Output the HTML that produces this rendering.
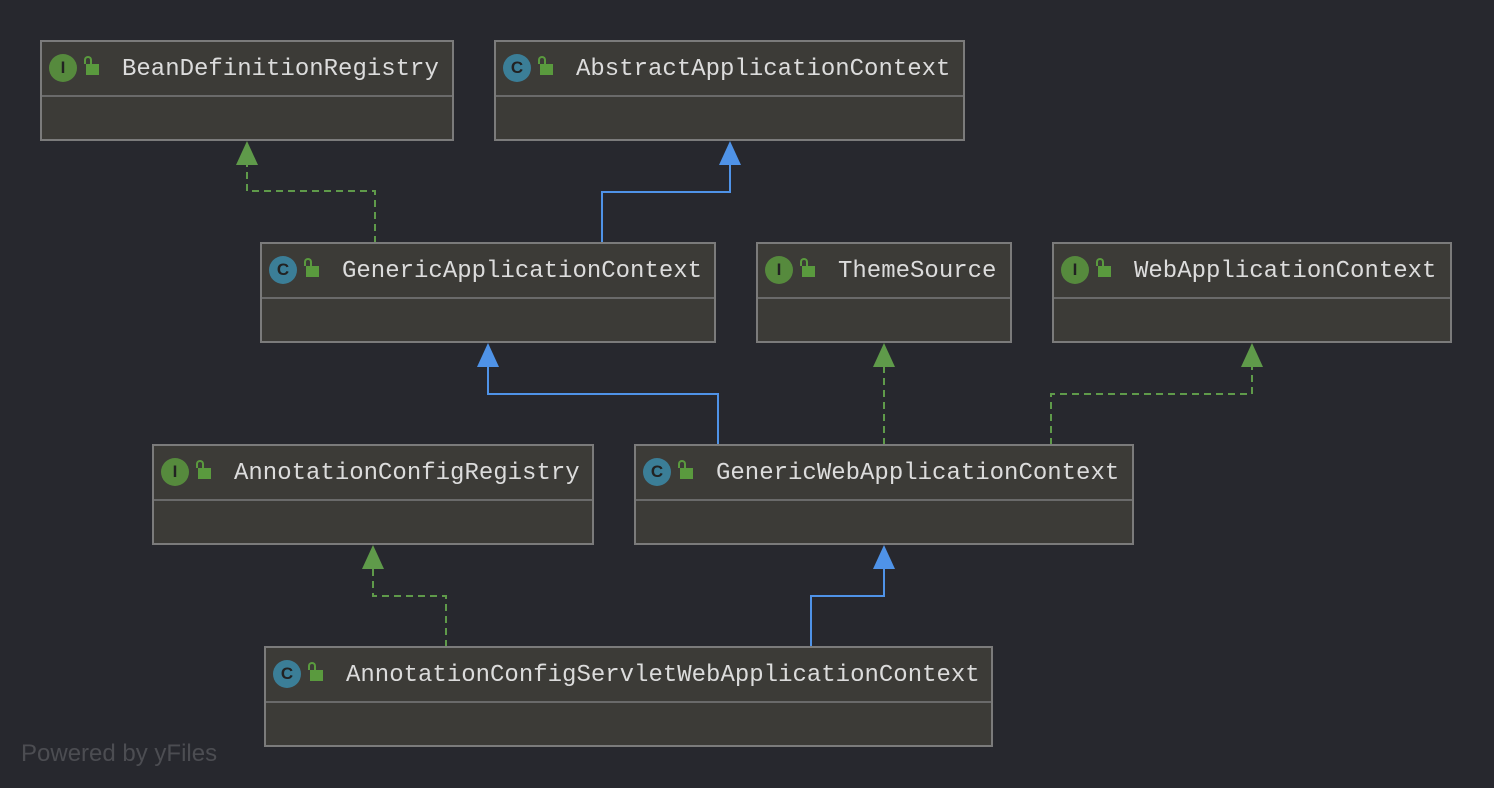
<!DOCTYPE html>
<html><head><style>
body{margin:0;width:1494px;height:788px;background:#27282e;position:relative;overflow:hidden;font-family:"Liberation Mono",monospace}
.b{position:absolute;background:#3c3b37;border:2px solid #7b7b7b;box-sizing:border-box;height:101px}
.b .h{height:53px;border-bottom:2px solid #6a6a6a;position:relative}
.b .t{position:absolute;left:80px;top:14px;font-size:24px;color:#dcdcdc;white-space:nowrap}
.ic{position:absolute;left:7px;top:12px;width:28px;height:28px;border-radius:50%;color:#222;font:bold 17px "Liberation Sans",sans-serif;text-align:center;line-height:28px}
.I{background:#568a3d}.C{background:#3b7e97}
.lk{position:absolute;left:44px;top:22px;width:13px;height:11px;background:#5a9a3e}
.lk:before{content:"";position:absolute;left:-2px;top:-8px;width:8px;height:8px;border:2px solid #5a9a3e;border-bottom:none;border-radius:4px 4px 0 0;box-sizing:border-box}
.p{position:absolute;left:21px;top:740px;font:24px "Liberation Sans",sans-serif;color:#4c4d52}
</style></head><body>
<svg width="1494" height="788" style="position:absolute;left:0;top:0">
<g fill="none" stroke-width="2">
<path d="M375 243V191H247V160" stroke="#5f9a4a" stroke-dasharray="7,5"/>
<path d="M602 243V192H730V160" stroke="#4f93e8"/>
<path d="M718 445V394H488V362" stroke="#4f93e8"/>
<path d="M884 445V362" stroke="#5f9a4a" stroke-dasharray="7,5"/>
<path d="M1051 445V394H1252V362" stroke="#5f9a4a" stroke-dasharray="7,5"/>
<path d="M446 647V596H373V564" stroke="#5f9a4a" stroke-dasharray="7,5"/>
<path d="M811 647V596H884V564" stroke="#4f93e8"/>
</g>
<g>
<polygon points="247,141 236,165 258,165" fill="#5f9a4a"/>
<polygon points="730,141 719,165 741,165" fill="#4f93e8"/>
<polygon points="488,343 477,367 499,367" fill="#4f93e8"/>
<polygon points="884,343 873,367 895,367" fill="#5f9a4a"/>
<polygon points="1252,343 1241,367 1263,367" fill="#5f9a4a"/>
<polygon points="373,545 362,569 384,569" fill="#5f9a4a"/>
<polygon points="884,545 873,569 895,569" fill="#4f93e8"/>
</g>
</svg>
<div class="b" style="left:40px;top:40px;width:414px"><div class="h"><div class="ic I">I</div><div class="lk"></div><div class="t">BeanDefinitionRegistry</div></div></div>
<div class="b" style="left:494px;top:40px;width:471px"><div class="h"><div class="ic C">C</div><div class="lk"></div><div class="t">AbstractApplicationContext</div></div></div>
<div class="b" style="left:260px;top:242px;width:456px"><div class="h"><div class="ic C">C</div><div class="lk"></div><div class="t">GenericApplicationContext</div></div></div>
<div class="b" style="left:756px;top:242px;width:256px"><div class="h"><div class="ic I">I</div><div class="lk"></div><div class="t">ThemeSource</div></div></div>
<div class="b" style="left:1052px;top:242px;width:400px"><div class="h"><div class="ic I">I</div><div class="lk"></div><div class="t">WebApplicationContext</div></div></div>
<div class="b" style="left:152px;top:444px;width:442px"><div class="h"><div class="ic I">I</div><div class="lk"></div><div class="t">AnnotationConfigRegistry</div></div></div>
<div class="b" style="left:634px;top:444px;width:500px"><div class="h"><div class="ic C">C</div><div class="lk"></div><div class="t">GenericWebApplicationContext</div></div></div>
<div class="b" style="left:264px;top:646px;width:729px"><div class="h"><div class="ic C">C</div><div class="lk"></div><div class="t">AnnotationConfigServletWebApplicationContext</div></div></div>
<div class="p">Powered by yFiles</div>
</body></html>
